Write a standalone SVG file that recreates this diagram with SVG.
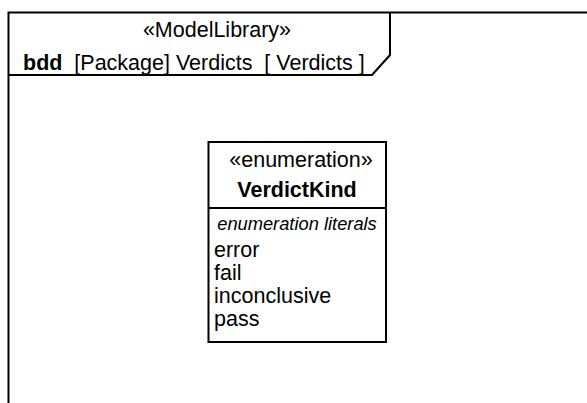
<svg xmlns="http://www.w3.org/2000/svg" width="587" height="403" viewBox="0 0 587 403">
<style>
text{font-family:"Liberation Sans",Arial,sans-serif;fill:#000;white-space:pre;}
.t{font-size:21.5px;}
.c{text-anchor:middle;}
.b{font-weight:bold;}
.i{font-style:italic;font-size:18.3px;}
.ln{fill:none;stroke:#000;stroke-width:2;}
</style>
<rect width="587" height="403" fill="#fff"/>
<g id="frame">
<path class="ln" d="M8.5,403 V12.5 H587"/>
<path class="ln" d="M8.5,75 H372 L390,55 V12.5"/>
<text class="t c" x="217" y="37">«ModelLibrary»</text>
<text class="t" x="23" y="70" xml:space="preserve"><tspan class="b">bdd</tspan>  [Package] Verdicts  [ Verdicts ]</text>
</g>
<g id="VerdictKind">
<rect class="ln" x="208.5" y="142" width="177.5" height="200" fill="#fff"/>
<line class="ln" x1="208.5" y1="208" x2="386" y2="208"/>
<text class="t c" x="301" y="167">«enumeration»</text>
<text class="t c b" x="297" y="197">VerdictKind</text>
<text class="i c" x="297" y="230">enumeration literals</text>
<text class="t" x="214" y="257">error</text>
<text class="t" x="214" y="280">fail</text>
<text class="t" x="214" y="303">inconclusive</text>
<text class="t" x="214" y="326">pass</text>
</g>
<g id="connectors"/>
</svg>
